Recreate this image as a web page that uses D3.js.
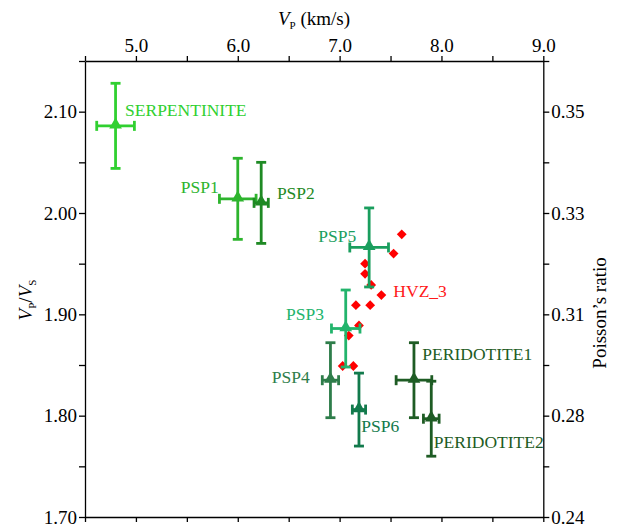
<!DOCTYPE html>
<html>
<head>
<meta charset="utf-8">
<script src="https://cdn.jsdelivr.net/npm/d3@7"></script>
<style>
  html, body { margin: 0; padding: 0; background: #fff; }
  svg { display: block; }
  svg text { font-family: "Liberation Serif", "Times New Roman", Times, serif; }
</style>
</head>
<body>
<svg id="chart" width="618" height="528"></svg>
<script>
// ---- Data ----
const samples = ["SERPENTINITE", "PSP1", "PSP2", "PSP5", "PSP3", "PSP4", "PSP6", "PERIDOTITE1", "PERIDOTITE2"];
const vp      = [4.80, 6.00, 6.23, 7.29, 7.06, 6.91, 7.19, 7.73, 7.90];
const vpErr   = [0.185, 0.18, 0.07, 0.19, 0.14, 0.08, 0.065, 0.175, 0.077];
const vpvs    = [2.086, 2.014, 2.010, 1.966, 1.886, 1.835, 1.806, 1.835, 1.797];
const vpvsErr = [0.042, 0.040, 0.040, 0.039, 0.038, 0.037, 0.036, 0.037, 0.037];
const sampleColors = ["#30d030", "#2db42d", "#1f8a24", "#1a9e5e", "#22b46c", "#2e7d4a", "#127a4c", "#1e5c24", "#1e5c24"];

const hvzVp   = [7.61, 7.53, 7.25, 7.25, 7.31, 7.41, 7.16, 7.30, 7.19, 7.09, 7.03, 7.135];
const hvzVpVs = [1.979, 1.960, 1.950, 1.940, 1.929, 1.919, 1.909, 1.909, 1.889, 1.879, 1.849, 1.849];

const xTicks = [5.0, 6.0, 7.0, 8.0, 9.0];
const xMinor = [4.5, 5.5, 6.5, 7.5, 8.5];
const yTicks = [1.70, 1.80, 1.90, 2.00, 2.10];
const yMinor = [1.75, 1.85, 1.95, 2.05, 2.15];
const poissonLabels = ["0.24", "0.28", "0.31", "0.33", "0.35"];

// ---- Layout ----
const svg = d3.select("#chart");
const L = 85, R = 543.3, T = 61, B = 517;
const x = d3.scaleLinear().domain([4.5, 9.0]).range([L, R]);
const y = d3.scaleLinear().domain([1.70, 2.15]).range([B, T]);
const FS = 19;
const FONT = "Liberation Serif, Times New Roman, serif";

const labelLayout = {
  "SERPENTINITE": {dx: 9.5, dy: -9.5, anchor: "start"},
  "PSP1": {dx: -19, dy: -6, anchor: "end"},
  "PSP2": {dx: 15.7, dy: -3.5, anchor: "start"},
  "PSP5": {dx: -13, dy: -5.4, anchor: "end"},
  "PSP3": {dx: -21.7, dy: -9, anchor: "end"},
  "PSP4": {dx: -20.7, dy: 3, anchor: "end"},
  "PSP6": {dx: 2.4, dy: 22, anchor: "start"},
  "PERIDOTITE1": {dx: 8.4, dy: -20, anchor: "start"},
  "PERIDOTITE2": {dx: 2.6, dy: 29, anchor: "start"}
};

// ---- Axes ----
function styleAxis(g) {
  g.attr("font-family", FONT);
  g.selectAll("path.domain").attr("stroke", "#000").attr("stroke-width", 1.3);
  g.selectAll(".tick line").attr("stroke", "#000").attr("stroke-width", 1.3);
  g.selectAll(".tick text").attr("font-family", FONT).attr("font-size", FS).attr("fill", "#000");
}

const gB = svg.append("g").attr("transform", `translate(0,${B})`)
  .call(d3.axisBottom(x).tickValues(xTicks.concat(xMinor)).tickSize(5).tickSizeOuter(0).tickFormat(""));
styleAxis(gB);
const gT = svg.append("g").attr("transform", `translate(0,${T})`)
  .call(d3.axisTop(x).tickValues(xTicks.concat(xMinor)).tickSize(5).tickSizeOuter(0).tickPadding(4)
    .tickFormat(d => xTicks.includes(d) ? d3.format(".1f")(d) : ""));
styleAxis(gT);

const gL = svg.append("g").attr("transform", `translate(${L},0)`)
  .call(d3.axisLeft(y).tickValues(yTicks).tickSize(6).tickSizeOuter(0).tickPadding(2).tickFormat(d3.format(".2f")));
styleAxis(gL);
svg.append("g").attr("transform", `translate(${L},0)`)
  .call(d3.axisLeft(y).tickValues(yMinor).tickSize(6).tickSizeOuter(0).tickFormat(""))
  .call(styleAxis).select("path.domain").remove();

const gR = svg.append("g").attr("transform", `translate(${R},0)`)
  .call(d3.axisRight(y).tickValues(yTicks).tickSize(6).tickSizeOuter(0).tickPadding(2)
    .tickFormat((d, i) => poissonLabels[i]));
styleAxis(gR);
svg.append("g").attr("transform", `translate(${R},0)`)
  .call(d3.axisRight(y).tickValues(yMinor).tickSize(6).tickSizeOuter(0).tickFormat(""))
  .call(styleAxis).select("path.domain").remove();

// ---- Axis titles ----
const topTitle = svg.append("text").attr("x", 314).attr("y", 25).attr("text-anchor", "middle")
  .attr("font-size", FS).attr("fill", "#000");
topTitle.append("tspan").attr("font-style", "italic").text("V");
topTitle.append("tspan").attr("font-size", 11).attr("dy", 4).text("P");
topTitle.append("tspan").attr("dy", -4).text("\u00a0(km/s)");

const leftTitle = svg.append("text").attr("transform", "translate(32,300) rotate(-90)")
  .attr("text-anchor", "middle").attr("font-size", FS).attr("fill", "#000");
leftTitle.append("tspan").attr("font-style", "italic").text("V");
leftTitle.append("tspan").attr("font-size", 11).attr("dy", 4).text("P");
leftTitle.append("tspan").attr("dy", -4).text("/");
leftTitle.append("tspan").attr("font-style", "italic").text("V");
leftTitle.append("tspan").attr("font-size", 11).attr("dy", 4).text("S");

svg.append("text").attr("transform", "translate(606,313) rotate(-90)")
  .attr("text-anchor", "middle").attr("font-size", FS).attr("fill", "#000")
  .text("Poisson\u2019s ratio");

// ---- HVZ_3 points ----
const hvz = hvzVp.map((v, i) => ({v, r: hvzVpVs[i]}));
svg.append("g").selectAll("path").data(hvz).join("path")
  .attr("d", d3.symbol(d3.symbolSquare, 48))
  .attr("transform", d => `translate(${x(d.v)},${y(d.r)}) rotate(45)`)
  .attr("fill", "#ff0000");
svg.append("text")
  .attr("x", x(hvzVp[5]) + 12).attr("y", y(hvzVpVs[5]) + 2)
  .attr("font-size", 17.5).attr("fill", "#ff1a1a").text("HVZ_3");

// ---- Samples with error bars ----
const data = samples.map((s, i) => ({s, v: vp[i], ve: vpErr[i], r: vpvs[i], re: vpvsErr[i], c: sampleColors[i]}));
const cap = 5, sw = 2.8;
const gS = svg.append("g");
data.forEach(d => {
  const g = gS.append("g").attr("stroke", d.c).attr("stroke-width", sw).attr("fill", "none");
  const cx = x(d.v), cy = y(d.r);
  const x0 = x(d.v - d.ve), x1 = x(d.v + d.ve);
  const y0 = y(d.r + d.re), y1 = y(d.r - d.re);
  g.append("line").attr("x1", cx).attr("x2", cx).attr("y1", y0).attr("y2", y1);
  g.append("line").attr("x1", cx - cap).attr("x2", cx + cap).attr("y1", y0).attr("y2", y0);
  g.append("line").attr("x1", cx - cap).attr("x2", cx + cap).attr("y1", y1).attr("y2", y1);
  g.append("line").attr("x1", x0).attr("x2", x1).attr("y1", cy).attr("y2", cy);
  g.append("line").attr("x1", x0).attr("x2", x0).attr("y1", cy - cap).attr("y2", cy + cap);
  g.append("line").attr("x1", x1).attr("x2", x1).attr("y1", cy - cap).attr("y2", cy + cap);
  gS.append("path").attr("d", d3.symbol(d3.symbolTriangle, 70))
    .attr("transform", `translate(${cx},${cy - 1})`).attr("fill", d.c);
  const lay = labelLayout[d.s];
  gS.append("text").attr("x", cx + lay.dx).attr("y", cy + lay.dy)
    .attr("text-anchor", lay.anchor).attr("font-size", 17.5).attr("fill", d.c).text(d.s);
});
</script>
</body>
</html>
